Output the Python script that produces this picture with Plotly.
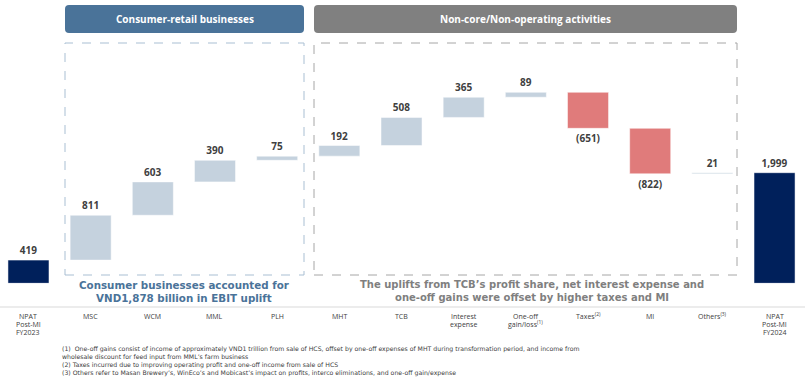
import plotly.graph_objects as go

# ---- data ----
categories = ["NPAT FY2023", "MSC", "WCM", "MML", "PLH", "MHT", "TCB", "Interest expense",
              "One-off gain/loss", "Taxes", "MI", "Others", "NPAT FY2024"]
tick_labels = ["NPAT<br>Post-MI<br>FY2023", "MSC", "WCM", "MML", "PLH", "MHT", "TCB",
               "Interest<br>expense", "One-off<br>gain/loss<sup>(1)</sup>", "Taxes<sup>(2)</sup>",
               "MI", "Others<sup>(3)</sup>", "NPAT<br>Post-MI<br>FY2024"]
values = [419, 811, 603, 390, 75, 192, 508, 365, 89, -651, -822, 21, 1999]
measures = ["total", "rel", "rel", "rel", "rel", "rel", "rel", "rel", "rel", "rel", "rel", "rel", "total"]

NAVY = "#00205b"
POS = "#c5d2de"
NEG = "#e07b7b"
TXT = "#404040"
FONT = "Open Sans"
WIDE = "DejaVu Sans"

W, H = 805, 386

# compute bases
bases, heights, colors, labels = [], [], [], []
running = 0
for v, m in zip(values, measures):
    if m == "total":
        bases.append(0)
        heights.append(v)
        colors.append(NAVY)
        running = v
    else:
        bases.append(running)
        heights.append(v)
        colors.append(POS if v >= 0 else NEG)
        running += v
    labels.append(f"{v:,}" if v >= 0 else f"({abs(v):,})")

x_pos = list(range(len(categories)))

fig = go.Figure()
fig.add_trace(go.Bar(
    x=x_pos, y=heights, base=bases, width=0.66,
    marker=dict(color=colors, line=dict(color="white", width=0.5)),
    text=labels, textposition="outside", cliponaxis=False,
    textfont=dict(family=FONT, size=10, color=TXT, weight="bold"),
    hoverinfo="skip",
))

def px(x):
    return x / W

def py(y):
    return 1 - y / H

def rounded(x0, y0, x1, y1, r=4):
    rx, ry = r / W, r / H
    X0, X1 = px(x0), px(x1)
    Y0, Y1 = py(y0), py(y1)  # Y0 top, Y1 bottom
    return (f"M {X0+rx},{Y0} L {X1-rx},{Y0} Q {X1},{Y0} {X1},{Y0-ry} "
            f"L {X1},{Y1+ry} Q {X1},{Y1} {X1-rx},{Y1} L {X0+rx},{Y1} "
            f"Q {X0},{Y1} {X0},{Y1+ry} L {X0},{Y0-ry} Q {X0},{Y0} {X0+rx},{Y0} Z")

shapes = [
    dict(type="path", xref="paper", yref="paper", path=rounded(65, 5, 304, 33),
         fillcolor="#4a7399", line=dict(width=0), layer="below"),
    dict(type="path", xref="paper", yref="paper", path=rounded(314, 5, 737, 33),
         fillcolor="#808080", line=dict(width=0), layer="below"),
    dict(type="rect", xref="paper", yref="paper", x0=px(65), x1=px(304), y0=py(275), y1=py(43),
         line=dict(color="#a9bfd3", width=1, dash="dash"), layer="below"),
    dict(type="rect", xref="paper", yref="paper", x0=px(314), x1=px(737), y0=py(275), y1=py(43),
         line=dict(color="#a6a6a6", width=1, dash="dash"), layer="below"),
    dict(type="line", xref="paper", yref="paper", x0=0, x1=1, y0=py(307), y1=py(307),
         line=dict(color="#d9d9d9", width=1)),
]

def ann(text, x, y, size, color, xref="paper", xanchor="center", family=FONT, align="center"):
    return dict(text=text, x=x, y=y, xref=xref, yref="paper", xanchor=xanchor, yanchor="middle",
                align=align, showarrow=False, font=dict(family=family, size=size, color=color))

annotations = [
    ann("<b>Consumer-retail businesses</b>", px(184.5), py(19), 10, "white"),
    ann("<b>Non-core/Non-operating activities</b>", px(525.5), py(19), 10, "white"),
]

cap_left = ["Consumer businesses accounted for", "VND1,878 billion in EBIT uplift"]
cap_right = ["The uplifts from TCB\u2019s profit share, net interest expense and",
             "one-off gains were offset by higher taxes and MI"]
annotations.append(ann("<b>" + "<br>".join(cap_left) + "</b>", px(184), py(291), 10.3, "#4a7399", family=WIDE))
annotations.append(ann("<b>" + "<br>".join(cap_right) + "</b>", px(532), py(291), 10, "#7f7f7f", family=WIDE))

# category labels
for xi, lab in zip(x_pos, tick_labels):
    for j, part in enumerate(lab.split("<br>")):
        annotations.append(ann(part, xi, py(316 + 8 * j), 7, TXT, xref="x"))

footnotes = [
    "(1)  One-off gains consist of income of approximately VND1 trillion from sale of HCS, offset by one-off expenses of MHT during transformation period, and income from",
    "wholesale discount for feed input from MML\u2019s farm business",
    "(2) Taxes incurred due to improving operating profit and one-off income from sale of HCS",
    "(3) Others refer to Masan Brewery\u2019s, WinEco\u2019s and Mobicast\u2019s impact on profits, interco eliminations, and one-off gain/expense",
]
annotations.append(ann("<br>".join(footnotes), px(60), py(361), 6.2, TXT, xanchor="left",
                       family=WIDE, align="left"))

fig.update_layout(
    width=W, height=H, margin=dict(l=0, r=0, t=0, b=0),
    paper_bgcolor="white", plot_bgcolor="white", showlegend=False,
    xaxis=dict(range=[-0.458, 12.49], visible=False, domain=[0, 1]),
    yaxis=dict(range=[0, 5120], visible=False, domain=[(H - 283.3) / H, 1]),
    shapes=shapes, annotations=annotations,
    font=dict(family=FONT),
)

fig.write_html("out.html", config={"displayModeBar": False},
               post_script="document.body.style.margin='0';document.body.style.overflow='hidden';")
